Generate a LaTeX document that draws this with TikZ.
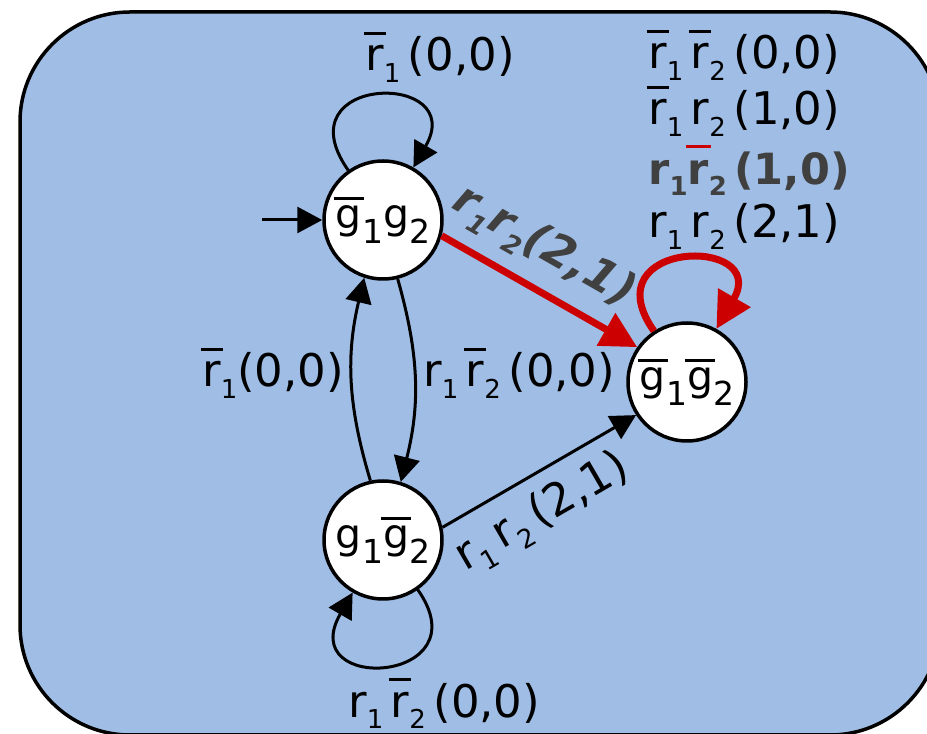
\documentclass[tikz,border=0pt]{standalone}
\usepackage{fontspec}
\setmainfont{DejaVu Sans}
\usepackage{xcolor}
\definecolor{stateblue}{RGB}{160,190,229}
\definecolor{loopred}{RGB}{204,0,0}
\definecolor{labelgray}{RGB}{64,64,64}
\usetikzlibrary{arrows.meta,positioning}

\newsavebox{\nbarbox}
\newcommand{\nbar}[3][black]{\sbox{\nbarbox}{#3}\rlap{\hspace*{-0.04em}\color{#1}\raisebox{#2}{\rule{\dimexpr\wd\nbarbox+0.08em\relax}{1.5pt}}}\usebox{\nbarbox}}
\newcommand{\lsub}[1]{\raisebox{-0.25em}{\fontsize{13}{13}\selectfont #1}}
\newcommand{\ssub}[1]{\raisebox{-0.35em}{\fontsize{16.5}{16.5}\selectfont #1}}

\begin{document}
\begin{tikzpicture}[
    x=0.5pt, y=0.5pt,
    state/.style={circle, draw, line width=1.75pt, fill=white, minimum size=59pt, inner sep=0pt, font=\fontsize{20.5}{24}\selectfont},
    lbl/.style={font=\fontsize{22.5}{27}\selectfont, inner sep=0pt, anchor=base west},
    arrow/.style={line width=1.5pt, -{Triangle[length=12.5pt,width=13pt]}},
    redarrow/.style={line width=3.5pt, loopred, -{Triangle[length=18pt,width=18pt]}}
]
    \useasboundingbox (0,0) rectangle (927,734);
    \clip (0,0) rectangle (927,734);
    \draw[fill=stateblue, line width=1.75pt, rounded corners=55pt] (20,-1) rectangle (940,722);

    \node[state] (ng1g2) at (383,514) {\nbar{0.7em}{g}\ssub{1}g\ssub{2}};
    \node[state] (g1ng2) at (383,194) {g\ssub{1}\nbar{0.7em}{g}\ssub{2}};
    \node[state] (ng1ng2) at (687,352) {\nbar{0.7em}{g}\ssub{1}\nbar{0.7em}{g}\ssub{2}};
    \coordinate (init) at (262,514);

    \node[lbl] (loopa) at (365,663) {\nbar{0.8em}{r}\lsub{1}\,(0,0)};
    \node[lbl] (upab) at (202,347) {\nbar{0.8em}{r}\lsub{1}(0,0)};
    \node[lbl] (downab) at (423,347) {r\lsub{1}\,\nbar{0.8em}{r}\lsub{2}\,(0,0)};
    \node[lbl] (loopb) at (348,17) {r\lsub{1}\,\nbar{0.8em}{r}\lsub{2}\,(0,0)};
    \node[lbl] (loopc1) at (648,665) {\nbar{0.8em}{r}\lsub{1}\,\nbar{0.8em}{r}\lsub{2}\,(0,0)};
    \node[lbl] (loopc2) at (648,609) {\nbar{0.8em}{r}\lsub{1}\,r\lsub{2}\,(1,0)};
    \node[lbl, labelgray, font=\fontsize{21.5}{26}\selectfont\bfseries] (loopc3) at (648,549) {r\lsub{1}\nbar[loopred]{0.85em}{r}\lsub{2}\,(1,0)};
    \node[lbl] (loopc4) at (648,496) {r\lsub{1}\,r\lsub{2}\,(2,1)};

    \draw[arrow] (init) -- (ng1g2);
    \draw[arrow] (ng1g2.125) .. controls +(125:118) and +(60:112) .. (ng1g2.60);
    \draw[arrow] (g1ng2.102) to[bend left=15] (ng1g2.-108);
    \draw[arrow] (ng1g2.-76) to[bend left=15] (g1ng2.73);
    \draw[arrow] (g1ng2.-55) .. controls +(-55:115) and +(-120:118) .. (g1ng2.-120);
    \draw[arrow] (g1ng2.12) -- node[sloped, below, pos=0.42, inner sep=7pt, font=\fontsize{22.5}{27}\selectfont] (edgebc) {r\lsub{1}\,r\lsub{2}\,(2,1)} (ng1ng2.-147);
    \draw[redarrow] (ng1g2.-15) -- node[sloped, above, pos=0.42, inner sep=7pt, text=labelgray, font=\fontsize{22.5}{27}\selectfont\bfseries\itshape] (edgeac) {r\lsub{1}r\lsub{2}(2,1)} (ng1ng2.145);
    \draw[redarrow] (ng1ng2.123) .. controls +(125:112) and +(60:108) .. (ng1ng2.61);
\end{tikzpicture}
\end{document}
